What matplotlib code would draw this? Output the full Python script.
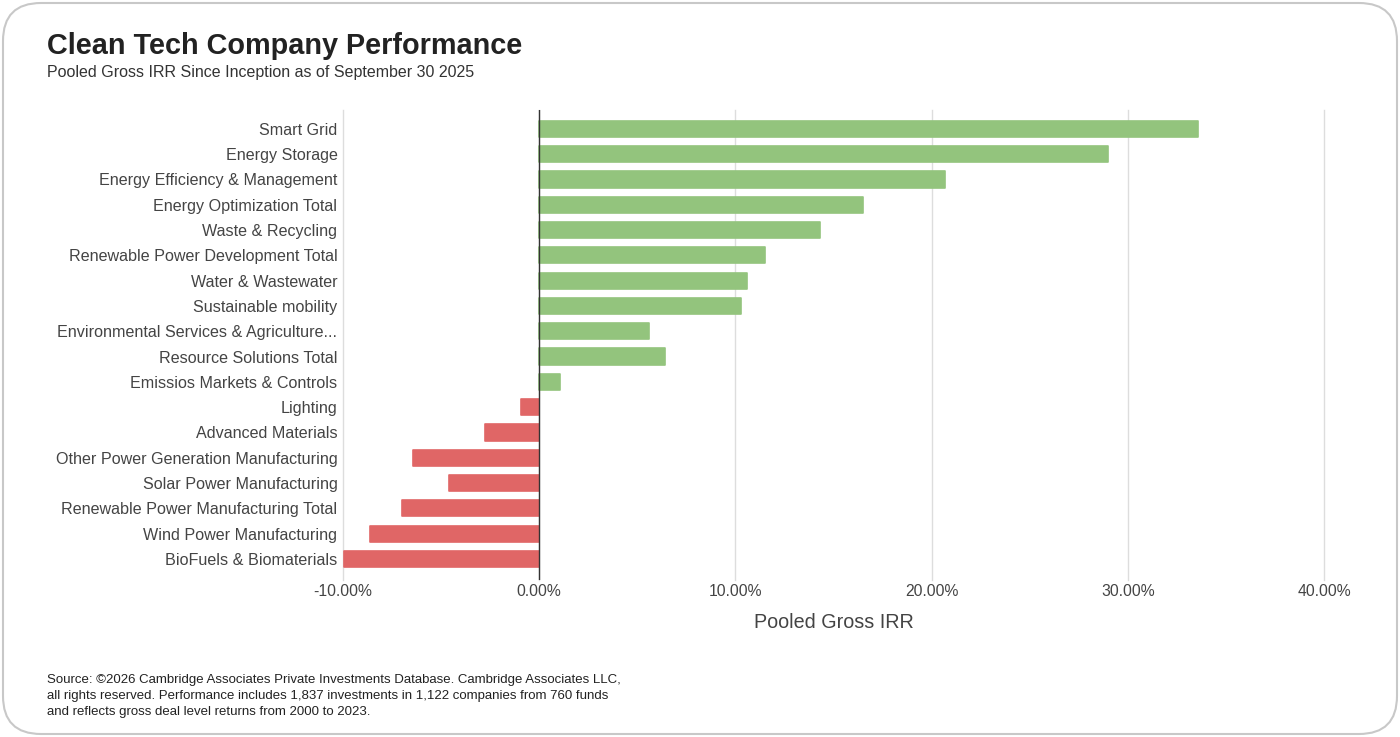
import matplotlib
matplotlib.use('Agg')
import matplotlib.pyplot as plt
from matplotlib.patches import FancyBboxPatch
from matplotlib.transforms import IdentityTransform
from matplotlib.ticker import FuncFormatter

# data (pooled gross IRR, %)
categories = [
    'Smart Grid', 'Energy Storage', 'Energy Efficiency & Management',
    'Energy Optimization Total', 'Waste & Recycling',
    'Renewable Power Development Total', 'Water & Wastewater',
    'Sustainable mobility', 'Environmental Services & Agriculture...',
    'Resource Solutions Total', 'Emissios Markets & Controls', 'Lighting',
    'Advanced Materials', 'Other Power Generation Manufacturing',
    'Solar Power Manufacturing', 'Renewable Power Manufacturing Total',
    'Wind Power Manufacturing', 'BioFuels & Biomaterials',
]
irr = [33.6, 29.0, 20.7, 16.5, 14.3, 11.5, 10.6, 10.3, 5.6, 6.4, 1.05,
       -0.95, -2.75, -6.45, -4.6, -7.0, -8.6, -9.95]
x_ticks = [-10, 0, 10, 20, 30, 40]

green = '#93c47d'
red = '#e06666'

plt.rcParams['font.family'] = ['Liberation Sans', 'DejaVu Sans']

fig = plt.figure(figsize=(14, 7.37), dpi=100)
fig.patch.set_facecolor('white')

# rounded card border
border = FancyBboxPatch((3, 3), 1394, 731, boxstyle='round,pad=0,rounding_size=38',
                        transform=IdentityTransform(), facecolor='none',
                        edgecolor='#c8c8c8', linewidth=1.5, zorder=-1)
fig.patches.append(border)

ax = fig.add_axes([0.245, 0.213, 0.7007, 0.638])
ax.set_facecolor('none')
ypos = list(range(len(categories)))
colors = [green if v >= 0 else red for v in irr]
ax.barh(ypos, irr, height=0.64, color=colors, edgecolor=colors,
        linewidth=1.2, joinstyle='round', zorder=3)

ax.set_xlim(-10, 40)
ax.set_ylim(17.83, -0.75)
ax.set_xticks(x_ticks)
ax.xaxis.set_major_formatter(FuncFormatter(lambda v, p: '%.2f%%' % v))
ax.set_yticks(ypos)
ax.set_yticklabels(categories)
ax.tick_params(axis='both', length=0, colors='#444444')
ax.tick_params(axis='y', labelsize=11.6, pad=4)
ax.tick_params(axis='x', labelsize=11.3, pad=3)
ax.grid(axis='x', color='#dddddd', linewidth=1, zorder=0)
for gl in ax.get_xgridlines():
    gl.set_clip_on(False)
ax.axvline(0, color='#333333', linewidth=1, zorder=4)
for s in ax.spines.values():
    s.set_visible(False)
ax.set_xlabel('Pooled Gross IRR', fontsize=14.2, color='#444444', labelpad=10)

fig.text(47 / 1400, 1 - 46 / 737, 'Clean Tech Company Performance', fontsize=20.8,
         fontweight='bold', color='#222222', va='center', ha='left')
fig.text(47 / 1400, 1 - 73 / 737, 'Pooled Gross IRR Since Inception as of September 30 2025',
         fontsize=11.5, color='#333333', va='center', ha='left')

source = ('Source: \u00a92026 Cambridge Associates Private Investments Database. Cambridge Associates LLC,\n'
          'all rights reserved. Performance includes 1,837 investments in 1,122 companies from 760 funds\n'
          'and reflects gross deal level returns from 2000 to 2023.')
fig.text(47 / 1400, 1 - 674 / 737, source, fontsize=9.5, color='#222222',
         va='top', ha='left', linespacing=1.45)

fig.savefig('out.png', dpi=100)
